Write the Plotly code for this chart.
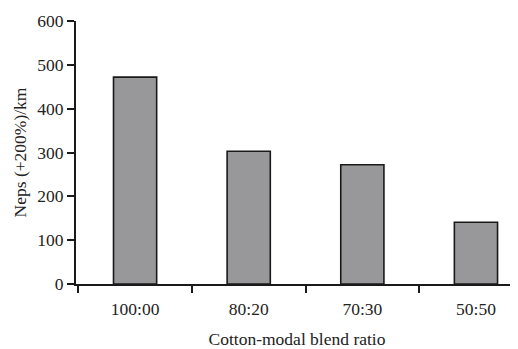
import plotly.graph_objects as go

categories = ["100:00", "80:20", "70:30", "50:50"]
neps = [472, 303, 272, 141]
y_ticks = [0, 100, 200, 300, 400, 500, 600]

FAMILY = "Liberation Serif, Times New Roman, serif"
INK = "#1a1a1a"

fig = go.Figure(go.Bar(
    x=categories, y=neps, width=0.38,
    marker=dict(color="#98989a", line=dict(color=INK, width=1.6)),
))

# page has an 8px body margin, so the figure is offset by 8px
fig.update_layout(
    width=510, height=341,
    margin=dict(l=68, r=0, t=13, b=65),
    paper_bgcolor="white", plot_bgcolor="white",
    font=dict(family=FAMILY, size=17.5, color="#222222"),
    showlegend=False,
)
fig.update_xaxes(
    type="category", range=[-0.52, 3.37],
    showline=True, linecolor=INK, linewidth=2,
    ticks="outside", tickson="boundaries", ticklen=7, tickwidth=1.6, tickcolor=INK,
    tickfont=dict(size=17.5), ticklabelstandoff=8,
    showgrid=False, zeroline=False,
    title=dict(text="Cotton-modal blend ratio", standoff=16, font=dict(size=17.5)),
)
fig.update_yaxes(
    range=[0, 600], tickvals=y_ticks,
    showline=True, linecolor=INK, linewidth=2,
    ticks="outside", ticklen=7, tickwidth=1.6, tickcolor=INK,
    tickfont=dict(size=17.5),
    showgrid=False, zeroline=False,
    title=dict(text="Neps (+200%)/km", standoff=6, font=dict(size=17.5)),
)

fig.write_html("out.html")
